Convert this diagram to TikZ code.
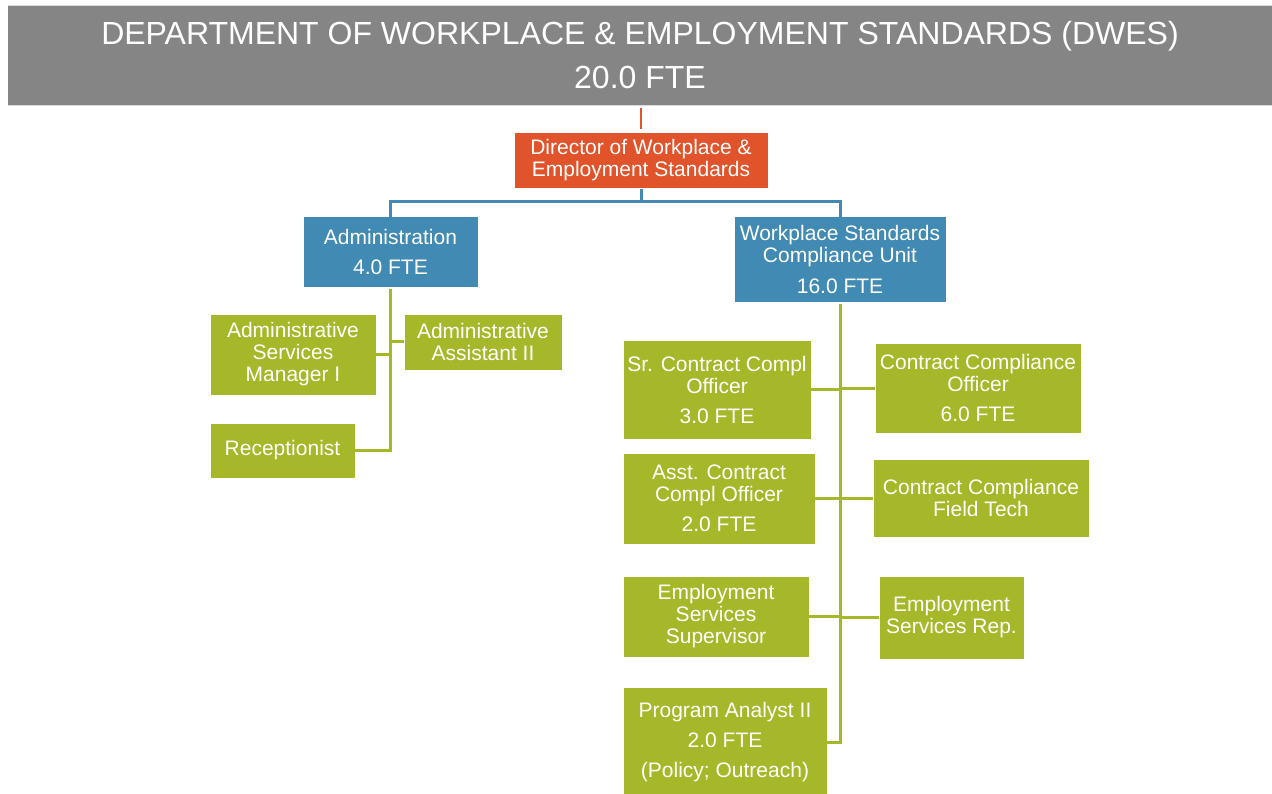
\documentclass[tikz,border=0pt]{standalone}
\usepackage{fontspec}
\setmainfont{Liberation Sans}
\begin{document}
\begin{tikzpicture}[x=1pt,y=-1pt,
  headbox/.style={fill=hdgray,inner sep=0pt,text=white,align=center,
    font=\fontsize{32}{44}\selectfont},
  dirbox/.style={fill=dirorange,draw=white,line width=0.8pt,inner sep=0pt,text=white,align=center,
    font=\fontsize{21}{22}\selectfont},
  unitbox/.style={fill=unitblue,draw=white,line width=0.8pt,inner sep=0pt,text=white,align=center,
    font=\fontsize{21}{22}\selectfont},
  rolebox/.style={fill=rolegreen,draw=white,line width=0.8pt,inner sep=0pt,text=white,align=center,
    font=\fontsize{21}{22}\selectfont},
  orangeline/.style={draw=dirorange,line width=2pt},
  blueline/.style={draw=unitblue,line width=3pt},
  greenline/.style={draw=rolegreen,line width=3pt},
]
\definecolor{hdgray}{HTML}{858585}
\definecolor{dirorange}{HTML}{E1532A}
\definecolor{unitblue}{HTML}{418AB3}
\definecolor{rolegreen}{HTML}{A6B829}

\useasboundingbox (0,0) rectangle (1272,794);
\fill[white] (0,0) rectangle (1272,794);
\draw[black!15,line width=1pt] (8,5.5) -- (1272,5.5);
\draw[black!15,line width=1pt] (8,105.5) -- (1272,105.5);

% header banner
\node[headbox,minimum width=1264,minimum height=99] (header) at (640,55.5)
  {DEPARTMENT OF WORKPLACE \& EMPLOYMENT STANDARDS (DWES)\\20.0 FTE};

% director
\node[dirbox,minimum width=254,minimum height=56] (dir) at (641,160)
  {Director of Workplace \&\\Employment Standards};

% units
\node[unitbox,minimum width=175,minimum height=71] (admin) at (390.5,251.5)
  {Administration\\[8pt]4.0 FTE};
\node[unitbox,minimum width=212,minimum height=86] (wscu) at (840,259)
  {Workplace Standards\\Compliance Unit\\[9pt]16.0 FTE};

% administration roles
\node[rolebox,minimum width=166,minimum height=81] (asm) at (293,354.5)
  {Administrative\\Services\\Manager I};
\node[rolebox,minimum width=158,minimum height=56] (aa2) at (483,342)
  {Administrative\\Assistant II};
\node[rolebox,minimum width=145,minimum height=55] (recep) at (282.5,450.5)
  {\raisebox{-2pt}{Receptionist}};

% compliance unit roles
\node[rolebox,minimum width=188,minimum height=99] (srco) at (717,389.5)
  {Sr. Contract Compl\\Officer\\[8pt]3.0 FTE};
\node[rolebox,minimum width=206,minimum height=90] (cco) at (978,388)
  {Contract Compliance\\Officer\\[8pt]6.0 FTE};
\node[rolebox,minimum width=192,minimum height=91] (asst) at (719,498.5)
  {Asst. Contract\\Compl Officer\\[8pt]2.0 FTE};
\node[rolebox,minimum width=216,minimum height=78] (ccft) at (981,498)
  {Contract Compliance\\Field Tech};
\node[rolebox,minimum width=186,minimum height=81] (ess) at (716,616.5)
  {Employment\\Services\\Supervisor};
\node[rolebox,minimum width=145,minimum height=83] (esr) at (951.5,617.5)
  {Employment\\Services Rep.};
\node[rolebox,minimum width=204,minimum height=110] (pa2) at (725,742)
  {Program Analyst II\\[8pt]2.0 FTE\\[8pt](Policy; Outreach)};

% director links
\draw[orangeline,shorten <=2.5pt,shorten >=2.5pt] (header.south -| dir.north) -- (dir.north);
\coordinate (bus) at (641,202);
\draw[blueline,shorten <=1pt] (dir.south) -- (bus);
\draw[blueline,line cap=rect] (bus) -| (admin.north);
\draw[blueline,line cap=rect] (bus) -| (wscu.north);

% administration tree
\draw[greenline,shorten <=2pt] (admin.south) |- (recep.east);
\draw[greenline] (asm.east) -- (asm.east -| admin.south);
\draw[greenline] (aa2.west) -- (aa2.west -| admin.south);

% compliance unit tree
\draw[greenline,shorten <=2pt] (wscu.south) |- (pa2.east);
\draw[greenline] (srco.east) -- (srco.east -| wscu.south);
\draw[greenline] (cco.west) -- (cco.west -| wscu.south);
\draw[greenline] (asst.east) -- (asst.east -| wscu.south);
\draw[greenline] (ccft.west) -- (ccft.west -| wscu.south);
\draw[greenline] (ess.east) -- (ess.east -| wscu.south);
\draw[greenline] (esr.west) -- (esr.west -| wscu.south);
\end{tikzpicture}
\end{document}
